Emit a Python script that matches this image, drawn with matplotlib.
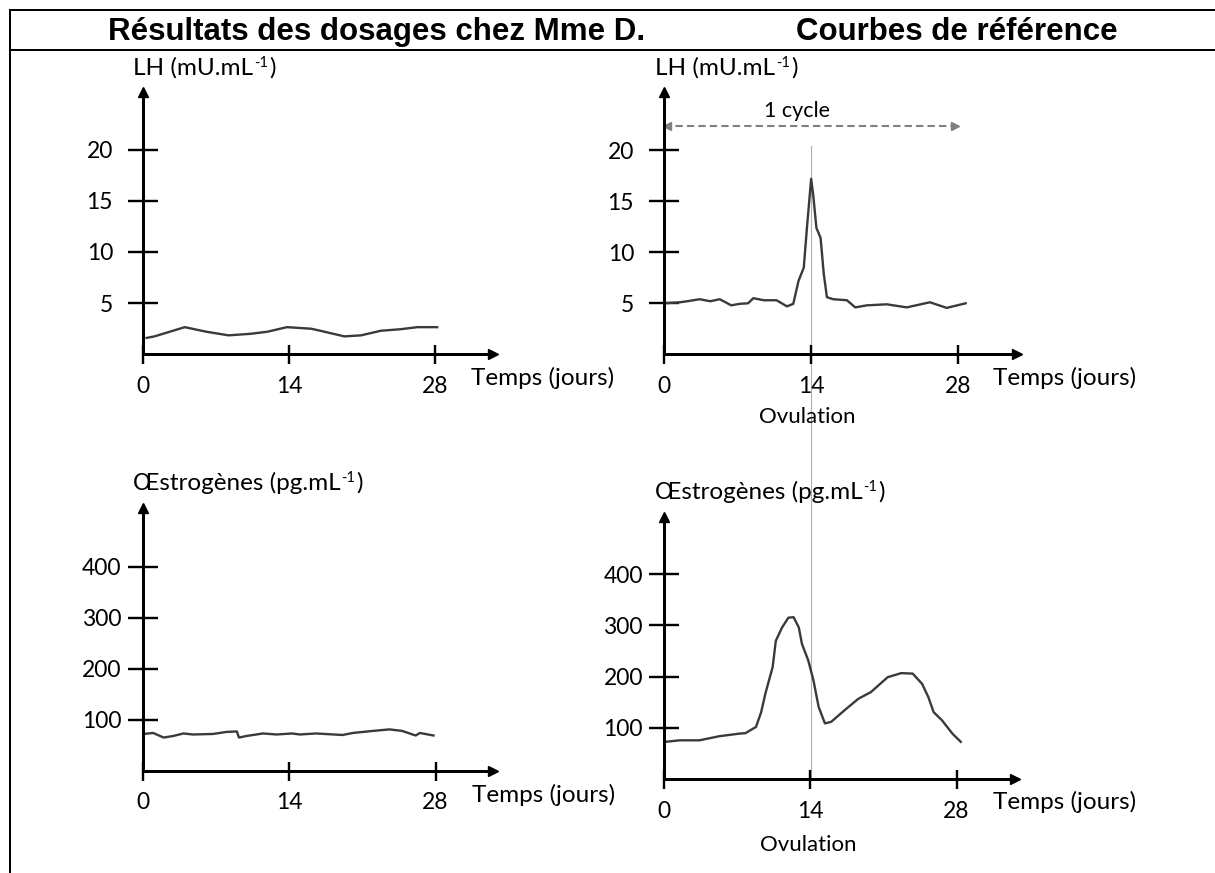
import matplotlib
matplotlib.use("Agg")
import matplotlib.pyplot as plt
from matplotlib.lines import Line2D
from matplotlib.transforms import blended_transform_factory

plt.rcParams['font.family'] = ['Lato', 'DejaVu Sans']

W, H = 1215, 873
DPI = 100

# ----------------------------
# Données
jours_lh_mme = [0.35, 1.1, 4.0, 6.1, 8.2, 10.3, 11.9, 13.8, 16.1, 17.0, 19.3, 20.9, 22.8, 24.7, 26.3, 28.2]
lh_mme = [1.6, 1.75, 2.65, 2.2, 1.85, 2.0, 2.2, 2.65, 2.5, 2.3, 1.75, 1.85, 2.3, 2.45, 2.65, 2.65]

jours_lh_ref = [0.0, 1.5, 2.2, 3.4, 4.4, 5.3, 6.4, 7.2, 8.0, 8.5, 9.5, 10.7, 11.7, 12.3, 12.8,
                13.3, 13.6, 14.0, 14.2, 14.5, 14.9, 15.2, 15.5, 16.1, 17.4, 18.2, 19.3, 21.2,
                23.1, 25.3, 26.9, 28.7]
lh_ref = [5.0, 5.1, 5.2, 5.4, 5.2, 5.4, 4.8, 4.95, 5.0, 5.5, 5.3, 5.3, 4.7, 4.95, 7.2,
          8.5, 12.4, 17.2, 15.6, 12.4, 11.4, 7.9, 5.6, 5.4, 5.3, 4.6, 4.8, 4.9,
          4.6, 5.1, 4.55, 5.0]

jours_oe_mme = [0.06, 1.0, 2.0, 2.9, 3.9, 4.8, 6.7, 8.0, 9.0, 9.2, 9.9, 11.5, 12.8, 14.3,
                15.0, 16.6, 19.1, 20.1, 22.0, 23.6, 24.8, 26.1, 26.5, 27.8]
oe_mme = [72, 74, 65, 68, 73, 71, 72, 76, 77, 65, 68, 73, 71, 73,
          71, 73, 70, 74, 78, 81, 78, 69, 74, 69]

jours_oe_ref = [0.1, 1.5, 3.4, 5.3, 7.2, 7.8, 8.8, 9.3, 9.7, 10.4, 10.7, 11.3, 11.9, 12.4,
                12.9, 13.2, 13.8, 14.3, 14.8, 15.4, 16.0, 17.3, 18.6, 19.8, 21.4, 22.7,
                23.8, 24.7, 25.3, 25.8, 26.6, 27.6, 28.4]
oe_ref = [73, 76, 76, 84, 89, 90, 102, 131, 167, 219, 270, 296, 315, 316,
          296, 264, 232, 193, 141, 109, 112, 135, 157, 170, 199, 207,
          206, 186, 160, 131, 115, 89, 73]

jours_ticks = [0, 14, 28]
lh_ticks = [5, 10, 15, 20]
oe_ticks = [100, 200, 300, 400]
jour_ovulation = 14
cycle = [0, 28]
# ----------------------------

COULEUR_COURBE = '#3a3a3a'
TAILLE_TEXTE = 17.5

fig = plt.figure(figsize=(W / DPI, H / DPI), dpi=DPI)
renderer = fig.canvas.get_renderer()


def px(v):
    # pixels -> points
    return v * 72.0 / DPI


def fig_txt(x, y, s, **kw):
    return fig.text(x / W, 1 - y / H, s, **kw)


def label_exposant(x, y, avant, exposant, apres, size):
    # texte avec un exposant "-1" (comme dans le document d'origine)
    t1 = fig_txt(x, y, avant, fontsize=size, va='baseline')
    x1 = t1.get_window_extent(renderer).x1
    montee = 0.34 * size * DPI / 72.0
    t2 = fig.text((x1 + 1) / W, (H - y + montee) / H, exposant, fontsize=size * 0.6, va='baseline')
    x2 = t2.get_window_extent(renderer).x1
    fig.text((x2 + 1) / W, 1 - y / H, apres, fontsize=size, va='baseline')


def repere(x0, y0, px_jour, px_unite, x_fin, y_haut, yticks, ypad):
    ax = fig.add_axes([x0 / W, 1 - y0 / H, (x_fin - x0) / W, (y0 - y_haut) / H])
    ax.set_xlim(0, (x_fin - x0) / px_jour)
    ax.set_ylim(0, (y0 - y_haut) / px_unite)
    ax.patch.set_visible(False)
    for cote in ['top', 'right']:
        ax.spines[cote].set_visible(False)
    for cote in ['left', 'bottom']:
        ax.spines[cote].set_linewidth(px(3))
        ax.spines[cote].set_capstyle('butt')
    ax.set_xticks(jours_ticks)
    ax.set_xticklabels([str(j) for j in jours_ticks])
    ax.set_yticks(yticks)
    ax.set_yticklabels([str(v) for v in yticks])
    ax.tick_params(axis='x', direction='inout', length=px(19), width=px(2.4),
                   pad=px(12), labelsize=16.5)
    ax.tick_params(axis='y', direction='inout', length=px(30), width=px(2.4),
                   pad=ypad, labelsize=16.5)
    # flèches des axes
    ax.plot(1, 0, '>', color='k', ms=7, transform=ax.get_yaxis_transform(), clip_on=False)
    ax.plot(0, 1, '^', color='k', ms=7, transform=ax.get_xaxis_transform(), clip_on=False)
    return ax


ax_lh_mme = repere(143, 354.3, 10.43, 10.24, 493, 92, lh_ticks, px(15))
ax_lh_ref = repere(664, 354.3, 10.51, 10.2, 1017, 91.7, lh_ticks, px(15))
ax_oe_mme = repere(142.7, 770.7, 10.46, 0.51, 493, 508, oe_ticks, px(6))
ax_oe_ref = repere(664, 779.3, 10.45, 0.513, 1015, 516.7, oe_ticks, px(6))

for ax, jours, valeurs in [(ax_lh_mme, jours_lh_mme, lh_mme), (ax_lh_ref, jours_lh_ref, lh_ref),
                           (ax_oe_mme, jours_oe_mme, oe_mme), (ax_oe_ref, jours_oe_ref, oe_ref)]:
    ax.plot(jours, valeurs, color=COULEUR_COURBE, lw=1.7, solid_joinstyle='round')

# trait vertical de l'ovulation (traverse les deux graphiques de référence)
trans = blended_transform_factory(ax_lh_ref.transData, fig.transFigure)
fig.add_artist(Line2D([jour_ovulation, jour_ovulation], [1 - 146 / H, 1 - 779 / H],
                      transform=trans, color='#b0b0b0', lw=0.8, zorder=0))

# flèche "1 cycle"
y_cycle = 22.4
ax_lh_ref.plot(cycle, [y_cycle, y_cycle], ls=(0, (3.5, 2)), color='#808080', lw=1.5, clip_on=False)
ax_lh_ref.plot(cycle[0] + 0.3, y_cycle, '<', color='#808080', ms=6, clip_on=False)
ax_lh_ref.plot(cycle[1] - 0.3, y_cycle, '>', color='#808080', ms=6, clip_on=False)
fig_txt(797, 117, '1 cycle', ha='center', va='baseline', fontsize=15.5)

# cadre du tableau
for xs, ys in [([10, W], [10, 10]), ([10, 10], [10, H]), ([10, W], [50, 50])]:
    fig.add_artist(Line2D([x / W for x in xs], [1 - y / H for y in ys],
                          transform=fig.transFigure, color='k', lw=px(2)))

# titres
fig_txt(108, 40, 'Résultats des dosages chez Mme D.', ha='left', va='baseline',
        fontsize=22.5, fontweight='bold', family='Liberation Sans')
fig_txt(796, 40, 'Courbes de référence', ha='left', va='baseline',
        fontsize=22.5, fontweight='bold', family='Liberation Sans')

# noms des axes
label_exposant(133, 75, 'LH (mU.mL', '-1', ')', TAILLE_TEXTE)
label_exposant(655, 75, 'LH (mU.mL', '-1', ')', TAILLE_TEXTE)
label_exposant(133, 490, 'Œstrogènes (pg.mL', '-1', ')', TAILLE_TEXTE)
label_exposant(655, 499, 'Œstrogènes (pg.mL', '-1', ')', TAILLE_TEXTE)
fig_txt(471, 385, 'Temps (jours)', ha='left', va='baseline', fontsize=TAILLE_TEXTE)
fig_txt(993, 385, 'Temps (jours)', ha='left', va='baseline', fontsize=TAILLE_TEXTE)
fig_txt(472, 802, 'Temps (jours)', ha='left', va='baseline', fontsize=TAILLE_TEXTE)
fig_txt(993, 809, 'Temps (jours)', ha='left', va='baseline', fontsize=TAILLE_TEXTE)
fig_txt(807, 423, 'Ovulation', ha='center', va='baseline', fontsize=16)
fig_txt(808, 851, 'Ovulation', ha='center', va='baseline', fontsize=16)

fig.savefig('out.png', dpi=DPI)
